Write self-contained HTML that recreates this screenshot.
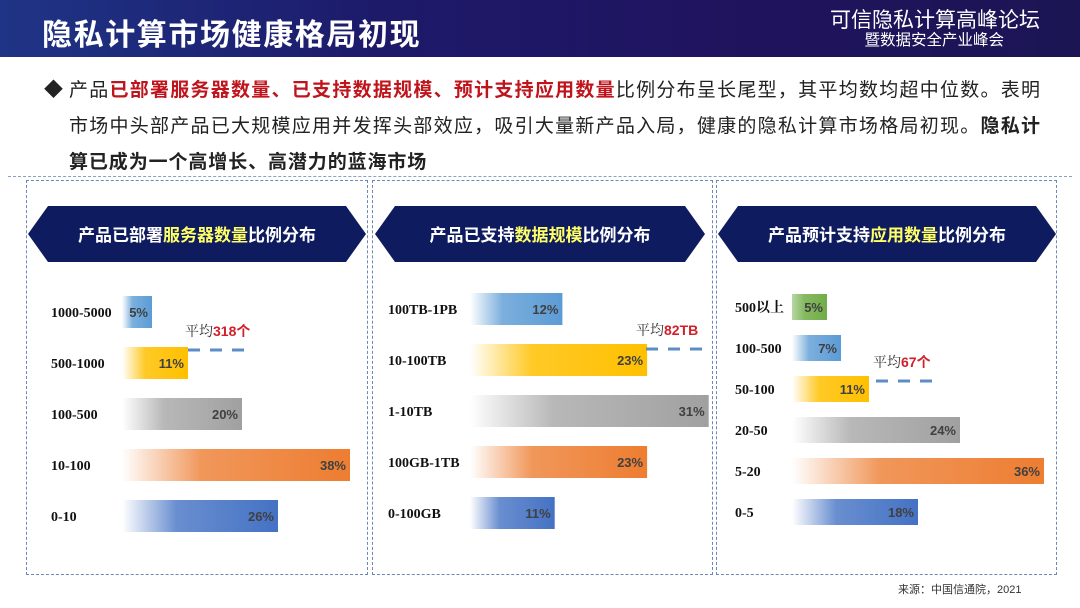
<!DOCTYPE html>
<html><head><meta charset="utf-8">
<style>
body{margin:0;width:1080px;height:608px;overflow:hidden;background:#fff;font-family:"Liberation Sans","Noto Sans CJK SC",sans-serif;position:relative}
.hdr{position:absolute;left:0;top:0;width:1080px;height:57px;background:linear-gradient(90deg,#1f3486 0%,#1d1a6a 35%,#20135e 70%,#1b1554 100%)}
.title{position:absolute;left:42px;top:10px;color:#fff;font-size:30px;font-weight:bold;letter-spacing:1.6px}
.r1{position:absolute;right:40px;top:4px;color:#fff;font-size:21px}
.r2{position:absolute;right:76px;top:28px;color:#fff;font-size:15.5px}
.para{position:absolute;left:44px;top:73px;width:1000px;font-size:19px;line-height:36px;color:#222}
.ln{display:block;width:971px;margin-left:25px;text-align:justify;text-align-last:justify;white-space:nowrap}
.ln.last{text-align-last:left;letter-spacing:0.9px}
.dia{position:absolute;left:0;top:0}
.red{color:#c0141c;font-weight:bold}
.b{font-weight:bold}
.rule{position:absolute;left:8px;top:176px;width:1064px;border-top:1px dashed #8aa0c0}
.box{position:absolute;top:180px;height:395px;border:1.5px dashed #6a88b8;box-sizing:border-box}
.src{position:absolute;left:898px;top:581px;font-size:11px;color:#333}
</style></head><body>
<div class="hdr"></div>
<div class="title">隐私计算市场健康格局初现</div>
<div class="r1">可信隐私计算高峰论坛</div>
<div class="r2">暨数据安全产业峰会</div>
<div class="para"><span class="dia">◆</span><span class="ln">产品<span class="red">已部署服务器数量、已支持数据规模、预计支持应用数量</span>比例分布呈长尾型，其平均数均超中位数。表明</span><span class="ln">市场中头部产品已大规模应用并发挥头部效应，吸引大量新产品入局，健康的隐私计算市场格局初现。<span class="b">隐私计</span></span><span class="ln last b">算已成为一个高增长、高潜力的蓝海市场</span></div>
<div class="rule"></div>
<div class="box" style="left:26px;width:342px"></div>
<div class="box" style="left:372px;width:341px"></div>
<div class="box" style="left:716px;width:341px"></div>
<svg id="chart" width="1080" height="608" style="position:absolute;left:0;top:0">
<defs>
<linearGradient id="g0" x1="0" x2="1"><stop offset="0" stop-color="#5b9bd5" stop-opacity="0"/><stop offset="0.35" stop-color="#5b9bd5" stop-opacity="0.8"/><stop offset="1" stop-color="#5b9bd5"/></linearGradient>
<linearGradient id="g1" x1="0" x2="1"><stop offset="0" stop-color="#ffc000" stop-opacity="0"/><stop offset="0.35" stop-color="#ffc000" stop-opacity="0.85"/><stop offset="1" stop-color="#ffc000"/></linearGradient>
<linearGradient id="g2" x1="0" x2="1"><stop offset="0" stop-color="#a6a6a6" stop-opacity="0"/><stop offset="0.35" stop-color="#a6a6a6" stop-opacity="0.8"/><stop offset="1" stop-color="#a0a0a0"/></linearGradient>
<linearGradient id="g3" x1="0" x2="1"><stop offset="0" stop-color="#ed7d31" stop-opacity="0"/><stop offset="0.35" stop-color="#ed7d31" stop-opacity="0.8"/><stop offset="1" stop-color="#ed7d31"/></linearGradient>
<linearGradient id="g4" x1="0" x2="1"><stop offset="0" stop-color="#4472c4" stop-opacity="0"/><stop offset="0.35" stop-color="#4472c4" stop-opacity="0.8"/><stop offset="1" stop-color="#4472c4"/></linearGradient>
<linearGradient id="g5" x1="0" x2="1"><stop offset="0" stop-color="#70ad47" stop-opacity="0.5"/><stop offset="0.35" stop-color="#70ad47" stop-opacity="0.85"/><stop offset="1" stop-color="#70ad47"/></linearGradient>
</defs>
</svg>
<div class="src">来源：中国信通院，2021</div>
<script>
const cats1=["1000-5000","500-1000","100-500","10-100","0-10"];
const vals1=[5,11,20,38,26];
const cats2=["100TB-1PB","10-100TB","1-10TB","100GB-1TB","0-100GB"];
const vals2=[12,23,31,23,11];
const cats3=["500以上","100-500","50-100","20-50","5-20","0-5"];
const vals3=[5,7,11,24,36,18];
const grads1=["g0","g1","g2","g3","g4"];
const grads3=["g5","g0","g1","g2","g3","g4"];
const means=["318个","82TB","67个"];
const svg=document.getElementById('chart');
const NS='http://www.w3.org/2000/svg';
function mk(t,a){const e=document.createElementNS(NS,t);for(const k in a)e.setAttribute(k,a[k]);svg.appendChild(e);return e;}
const panels=[
 {cats:cats1,vals:vals1,grads:grads1,x0:122,k:6.0,y0:296,step:51,h:32,lx:51,bx0:28,bx1:366,title:["产品已部署","服务器数量","比例分布"],mean:means[0],mx:188,my:350,mlx:185},
 {cats:cats2,vals:vals2,grads:grads1,x0:470,k:7.7,y0:293,step:51,h:32,lx:388,bx0:375,bx1:705,title:["产品已支持","数据规模","比例分布"],mean:means[1],mx:646,my:349,mlx:636},
 {cats:cats3,vals:vals3,grads:grads3,x0:792,k:7.0,y0:294,step:41,h:26,lx:735,bx0:718,bx1:1056,title:["产品预计支持","应用数量","比例分布"],mean:means[2],mx:876,my:381,mlx:873}
];
panels.forEach((p,pi)=>{
 const yb=206,yt=262,ym=234;
 const ban=mk('polygon',{points:`${p.bx0},${ym} ${p.bx0+20},${yb} ${p.bx1-20},${yb} ${p.bx1},${ym} ${p.bx1-20},${yt} ${p.bx0+20},${yt}`,fill:'#0e1b5e'});
 
 
 const tt=mk('text',{x:(p.bx0+p.bx1)/2,y:241,'text-anchor':'middle','font-size':17,'font-weight':'bold',fill:'#fff','font-family':'"Liberation Sans","Noto Sans CJK SC",sans-serif'});
 
 
 p.title.forEach((s,i)=>{const ts=document.createElementNS(NS,'tspan');ts.textContent=s;if(i==1)ts.setAttribute('fill','#ffff66');tt.appendChild(ts);});
 p.cats.forEach((c,i)=>{
  const y=p.y0+i*p.step,w=p.vals[i]*p.k;
  const r=mk('rect',{x:p.x0,y:y,width:w,height:p.h,fill:'url(#'+p.grads[i]+')'});
  
  
  const l=mk('text',{x:p.lx,y:y+p.h/2+5,'font-size':14,'font-weight':'bold',fill:'#111','font-family':'"Liberation Serif","Noto Serif CJK SC",serif'});
  l.textContent=c;
  
  
  const v=mk('text',{x:p.x0+w-4,y:y+p.h/2+5,'text-anchor':'end','font-size':13,'font-weight':'bold',fill:'#404040'});
  v.textContent=p.vals[i]+'%';
  
  
 });
 const ml=mk('line',{x1:p.mx,y1:p.my,x2:p.mx+62,y2:p.my,stroke:'#5b8ec8','stroke-width':3,'stroke-dasharray':'12,10'});
 
 
 const mt=mk('text',{x:p.mlx,y:p.my-14,'font-size':14,fill:'#333','font-family':'"Liberation Serif","Noto Serif CJK SC",serif'});
 
 
 const a=document.createElementNS(NS,'tspan');a.textContent='平均';mt.appendChild(a);
 const b=document.createElementNS(NS,'tspan');b.textContent=p.mean;b.setAttribute('fill','#d0202a');b.setAttribute('font-weight','bold');b.setAttribute('font-family','"Liberation Sans","Noto Sans CJK SC",sans-serif');mt.appendChild(b);
});
</script>
</body></html>
